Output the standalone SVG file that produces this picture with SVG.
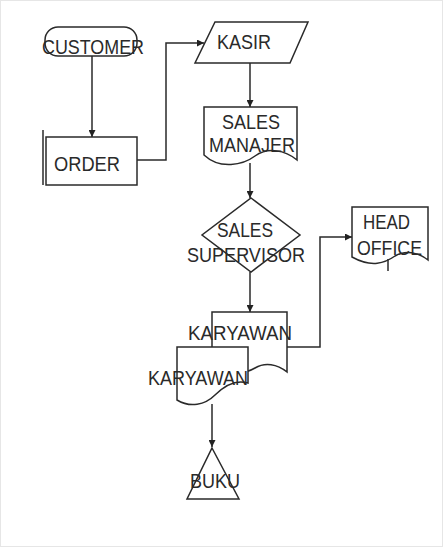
<svg xmlns="http://www.w3.org/2000/svg" width="443" height="547" viewBox="0 0 443 547">
<defs>
<marker id="ah" viewBox="0 0 10 10" refX="10" refY="5" markerWidth="7" markerHeight="7" orient="auto" markerUnits="userSpaceOnUse">
<path d="M0,0 L10,5 L0,10 Z" fill="#222"/>
</marker>
</defs>
<style>
.s{fill:#fff;stroke:#2a2a2a;stroke-width:1.5}
.c{fill:none;stroke:#2a2a2a;stroke-width:1.5}
.t{font-family:"Liberation Sans",Arial,sans-serif;font-size:21px;fill:#2a2a2a}
</style>
<rect x="0" y="0" width="443" height="547" fill="#fff"/>
<rect x="0.5" y="0.5" width="442" height="546" fill="none" stroke="#e6e6e6"/>
<g id="connectors">
<path class="c" d="M92,56 V137" marker-end="url(#ah)"/>
<path class="c" d="M137,160 H166 V43 H204" marker-end="url(#ah)"/>
<path class="c" d="M250,63 V107" marker-end="url(#ah)"/>
<path class="c" d="M250,163 V198" marker-end="url(#ah)"/>
<path class="c" d="M250,272 V312" marker-end="url(#ah)"/>
<path class="c" d="M287,347 H320 V237 H352" marker-end="url(#ah)"/>
<path class="c" d="M212,404 V447" marker-end="url(#ah)"/>
</g>
<g id="customer">
<rect class="s" x="45" y="27" width="92" height="29" rx="13"/>
<text class="t" x="42" y="54" textLength="102" lengthAdjust="spacingAndGlyphs">CUSTOMER</text>
</g>
<g id="order">
<rect class="s" x="46" y="137" width="91" height="48"/>
<line class="c" x1="43" y1="130" x2="43" y2="185"/>
<text class="t" x="54" y="171" textLength="66" lengthAdjust="spacingAndGlyphs">ORDER</text>
</g>
<g id="kasir">
<polygon class="s" points="215,22 308,22 290,63 195,63"/>
<text class="t" x="217" y="49" textLength="54" lengthAdjust="spacingAndGlyphs">KASIR</text>
</g>
<g id="sales-manajer">
<path class="s" d="M204,107 H297 V160 C285,150 268,147 255,156 C243,165 220,170 204,155 Z"/>
<text class="t" x="222" y="129" textLength="58" lengthAdjust="spacingAndGlyphs">SALES</text>
<text class="t" x="209" y="152" textLength="86" lengthAdjust="spacingAndGlyphs">MANAJER</text>
</g>
<g id="sales-supervisor">
<polygon class="s" points="251,198 300,235 251,272 202,235"/>
<text class="t" x="217" y="237" textLength="56" lengthAdjust="spacingAndGlyphs">SALES</text>
<text class="t" x="187" y="262" textLength="118" lengthAdjust="spacingAndGlyphs">SUPERVISOR</text>
</g>
<g id="head-office">
<path class="s" d="M352,207 H428 V260 C418,252 405,250 395,256 C385,263 372,268 352,257 Z"/>
<line class="c" x1="388" y1="259" x2="388" y2="271"/>
<text class="t" x="363" y="229" textLength="47" lengthAdjust="spacingAndGlyphs">HEAD</text>
<text class="t" x="357" y="255" textLength="65" lengthAdjust="spacingAndGlyphs">OFFICE</text>
</g>
<g id="karyawan-1">
<path class="s" d="M212,312 H287 V372 C277,364 265,362 255,368 C245,374 228,376 212,366 Z"/>
<text class="t" x="188" y="340" textLength="104" lengthAdjust="spacingAndGlyphs">KARYAWAN</text>
</g>
<g id="karyawan-2">
<path class="s" d="M177,347 H248 V383 C238,380 226,384 215,395 C205,405 190,408 177,400 Z"/>
<text class="t" x="148" y="385" textLength="100" lengthAdjust="spacingAndGlyphs">KARYAWAN</text>
</g>
<g id="buku">
<polygon class="s" points="212,448 239,499 187,499"/>
<text class="t" x="190" y="488" textLength="50" lengthAdjust="spacingAndGlyphs">BUKU</text>
</g>
</svg>
